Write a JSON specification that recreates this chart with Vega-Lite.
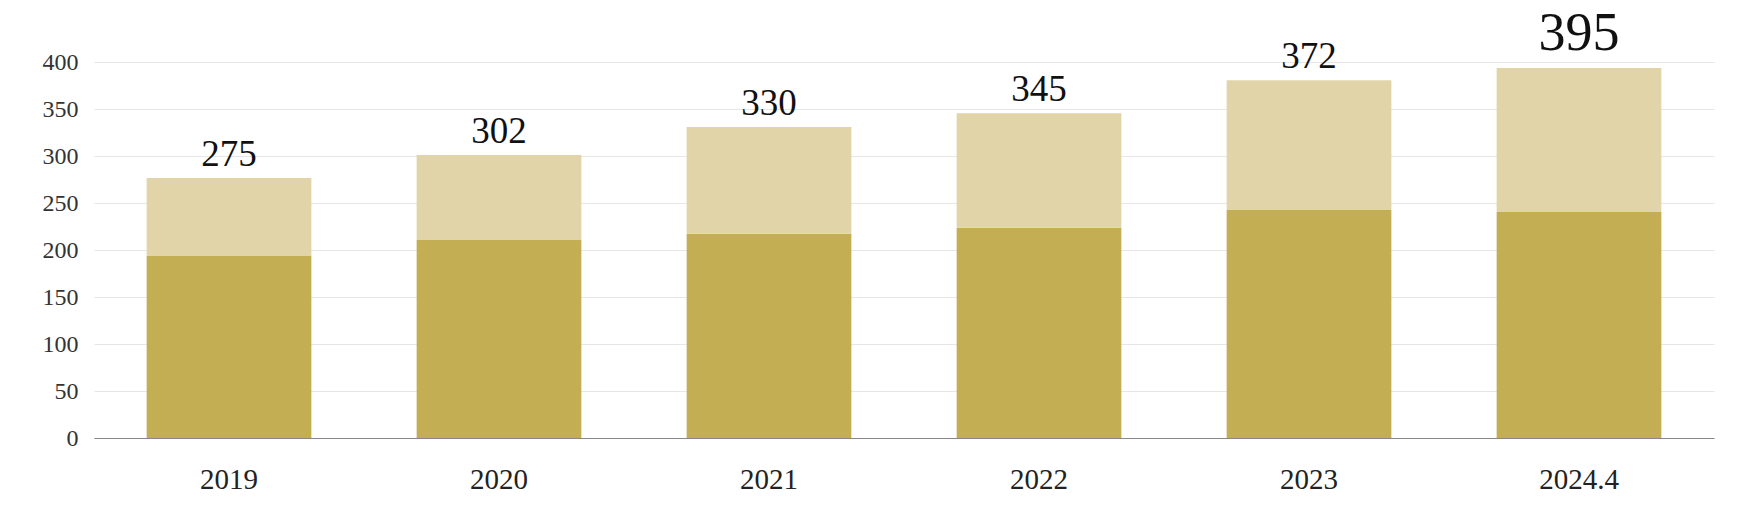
{
  "$schema": "https://vega.github.io/schema/vega-lite/v6.json",
  "width": 1620,
  "height": 376,
  "autosize": {"type": "none"},
  "padding": {"left": 94, "top": 62, "right": 27, "bottom": 67},
  "background": "white",
  "config": {"view": {"stroke": null}, "font": "Liberation Serif"},
  "data": {
    "values": [
      {"year": "2019", "inner": 193.6, "total": 276.6, "label": "275"},
      {"year": "2020", "inner": 210.6, "total": 301.1, "label": "302"},
      {"year": "2021", "inner": 217.3, "total": 330.9, "label": "330"},
      {"year": "2022", "inner": 223.7, "total": 345.4, "label": "345"},
      {"year": "2023", "inner": 242.6, "total": 380.5, "label": "372"},
      {"year": "2024.4", "inner": 240.4, "total": 393.6, "label": "395"}
    ]
  },
  "encoding": {
    "x": {
      "field": "year",
      "type": "nominal",
      "sort": null,
      "title": null,
      "scale": {"paddingInner": 0.39, "paddingOuter": 0.195},
      "axis": {
        "labelAngle": 0,
        "labelFont": "Liberation Serif",
        "labelFontSize": 29,
        "labelColor": "#222222",
        "labelBaseline": "top",
        "labelPadding": 27,
        "ticks": false,
        "tickSize": 0,
        "domainColor": "#888888",
        "domainWidth": 1,
        "grid": false
      }
    }
  },
  "layer": [
    {
      "mark": {"type": "bar", "color": "#C4AE54"},
      "encoding": {
        "y": {
          "field": "inner",
          "type": "quantitative",
          "title": null,
          "scale": {"domain": [0, 400], "nice": false},
          "axis": {
            "values": [0, 50, 100, 150, 200, 250, 300, 350, 400],
            "labelFont": "Liberation Serif",
            "labelFontSize": 24,
            "labelColor": "#333333",
            "labelPadding": 16,
            "ticks": false,
            "tickSize": 0,
            "domain": false,
            "grid": true,
            "gridColor": "#E6E6E6",
            "gridWidth": 1
          }
        }
      }
    },
    {
      "mark": {"type": "bar", "color": "#E0D4A8"},
      "encoding": {
        "y": {"field": "inner", "type": "quantitative", "title": null},
        "y2": {"field": "total"}
      }
    },
    {
      "transform": [{"filter": "datum.year !== '2024.4'"}],
      "mark": {"type": "text", "baseline": "alphabetic", "align": "center", "dy": -12, "fontSize": 37, "color": "#111111", "font": "Liberation Serif"},
      "encoding": {
        "y": {"field": "total", "type": "quantitative", "title": null},
        "text": {"field": "label"}
      }
    },
    {
      "transform": [{"filter": "datum.year === '2024.4'"}],
      "mark": {"type": "text", "baseline": "alphabetic", "align": "center", "dy": -18, "fontSize": 54, "color": "#111111", "font": "Liberation Serif"},
      "encoding": {
        "y": {"field": "total", "type": "quantitative", "title": null},
        "text": {"field": "label"}
      }
    }
  ]
}
